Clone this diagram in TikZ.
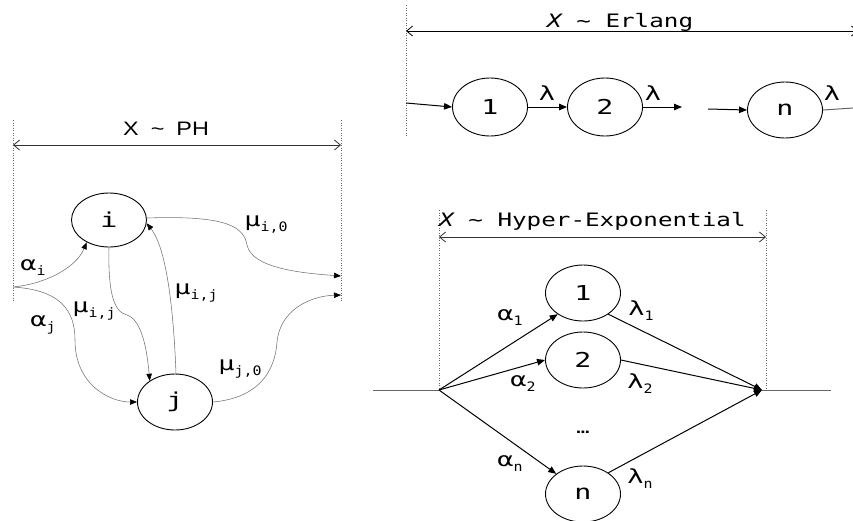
\documentclass[tikz,border=0pt]{standalone}
\usepackage{fontspec}
\setmainfont[FakeStretch=1.38]{DejaVu Sans Mono}
\newfontfamily\ttlf[FakeStretch=1.31]{DejaVu Sans Mono}
\newfontfamily\subf[FakeStretch=1.15]{DejaVu Sans Mono}
\newfontfamily\phf[FakeStretch=1.2]{Liberation Sans}
\usetikzlibrary{shapes.geometric,arrows.meta}
\newcommand\lbl[2]{{\fontsize{19.5}{21}\selectfont #1}\raisebox{-5pt}{\fontsize{13}{15}\subf #2}}
\newcommand\ttl{\fontsize{18.5}{20}\ttlf}
\begin{document}
\begin{tikzpicture}[x=1pt,y=-1pt,
  st/.style={ellipse,draw,line width=0.9pt,minimum width=75pt,minimum height=56pt,inner sep=0pt,font=\fontsize{20.5}{22}\selectfont},
  ge/.style={draw=black!55,line width=0.55pt,-{Triangle[length=7pt,width=5.5pt,color=black]}},
  be/.style={draw=black,line width=1pt,-{Triangle[length=8pt,width=6.5pt]}},
  gl/.style={draw=black!60,line width=1pt},
  dotline/.style={draw=black!60,line width=0.5pt,dotted},
  dim/.style={draw=black!80,line width=0.8pt,{Straight Barb[length=6pt,width=10pt]}-{Straight Barb[length=6pt,width=10pt]}},
  lab/.style={inner sep=0pt}]
\fill[white] (0,0) rectangle (853,520);
\useasboundingbox (0,0) rectangle (853,520);

% ---------------- PH ----------------
\draw[dotline] (13,120) -- (13,302);
\draw[dotline] (341,120) -- (341,302);
\coordinate (pa) at (13,145);
\coordinate (pb) at (341,145);
\draw[dim] (pa) -- (pb);
\node[anchor=base west,inner sep=0pt] (tph) at (123,135) {\fontsize{19.5}{21}\phf X\hspace{12pt}\textasciitilde\hspace{12pt}PH};
\coordinate (s) at (13,287);
\coordinate (o1) at (341,276);
\coordinate (o2) at (341,295);
\node[st,minimum height=54pt] (i) at (109,220) {i};
\node[st] (j) at (175,402) {j};
\draw[ge] (s) .. controls (45,284) and (76,268) .. (i.-135);
\draw[ge] (s) .. controls (60,290) and (75,310) .. (75,340) .. controls (75,385) and (110,402) .. (j.west);
\draw[ge] (i.-90) .. controls (108,290) and (113,312) .. (127,315) .. controls (142,320) and (147,350) .. (j.140);
\draw[ge] (j.88) .. controls (174,320) and (168,250) .. (i.-5);
\draw[ge] (i.3) .. controls (230,215) and (244,228) .. (247,245) .. controls (252,268) and (300,273) .. (o1);
\draw[ge] (j.east) .. controls (258,398) and (275,372) .. (277,342) .. controls (280,310) and (310,296) .. (o2);
\node[lab] (lai) at (33,268) {\lbl{α}{i}};
\node[lab] (laj) at (43,325) {\lbl{α}{j}};
\node[lab] (lmi0) at (266,225) {\lbl{μ}{i,0}};
\node[lab] (lmij2) at (196,293) {\lbl{μ}{i,j}};
\node[lab] (lmij1) at (94,311) {\lbl{μ}{i,j}};
\node[lab] (lmj0) at (240,369) {\lbl{μ}{j,0}};

% ---------------- Erlang ----------------
\draw[dotline] (406,5) -- (406,137);
\coordinate (ea) at (406,31);
\coordinate (eb) at (858,31);
\draw[dim,draw=black] (ea) -- (eb);
\node[anchor=base west,inner sep=0pt] (ter) at (547,27) {\ttl{\itshape X} \textasciitilde{} Erlang};
\node[st,minimum height=58pt] (e1) at (490,107) {1};
\node[st,minimum height=58pt] (e2) at (605,107) {2};
\node[st] (en) at (785,110) {n};
\coordinate (ein) at (406,103);
\coordinate (e2o) at (682,107);
\coordinate (eni) at (708,109);
\coordinate (eno) at (853,108);
\draw[be] (ein) -- (e1.west);
\draw[be] (e1) -- (e2);
\draw[be] (e2.east) -- (e2o);
\draw[be] (eni) -- (en.west);
\draw[gl] (en.east) -- (eno);
\node[lab] (l1) at (547,93) {\fontsize{19.5}{21}\selectfont λ};
\node[lab] (l2) at (653,93) {\fontsize{19.5}{21}\selectfont λ};
\node[lab] (l3) at (832,93) {\fontsize{19.5}{21}\selectfont λ};

% ---------------- Hyper-Exponential ----------------
\draw[dotline] (439,210) -- (439,390);
\draw[dotline] (766,210) -- (766,390);
\coordinate (ha) at (439,237);
\coordinate (hb) at (766,237);
\draw[dim] (ha) -- (hb);
\node[anchor=base west,inner sep=0pt] (thy) at (439,226) {\ttl{\itshape X} \textasciitilde{} Hyper-Exponential};
\node[st] (h1) at (583,293) {1};
\node[st] (h2) at (583,360) {2};
\node[st] (hn) at (583,494) {n};
\coordinate (L) at (439,390);
\coordinate (R) at (762,390);
\coordinate (Lin) at (373,390);
\coordinate (Rout) at (831,390);
\draw[gl] (Lin) -- (L);
\draw[gl] (R) -- (Rout);
\draw[be] (L) -- (h1.-140);
\draw[be] (L) -- (h2.west);
\draw[be] (L) -- (hn.143);
\draw[be] (h1.-40) -- (R);
\draw[be] (h2.east) -- (R);
\draw[be] (hn.40) -- (R);
\node[lab] (la1) at (510,318) {\lbl{α}{1}};
\node[lab] (la2) at (523,384) {\lbl{α}{2}};
\node[lab] (lan) at (510,464) {\lbl{α}{n}};
\node[lab] (ll1) at (641,311) {\lbl{λ}{1}};
\node[lab] (ll2) at (640,384) {\lbl{λ}{2}};
\node[lab] (lln) at (640,479) {\lbl{λ}{n}};
\node[lab] (dots) at (583,432) {\fontsize{16}{18}\selectfont …};
\end{tikzpicture}
\end{document}
